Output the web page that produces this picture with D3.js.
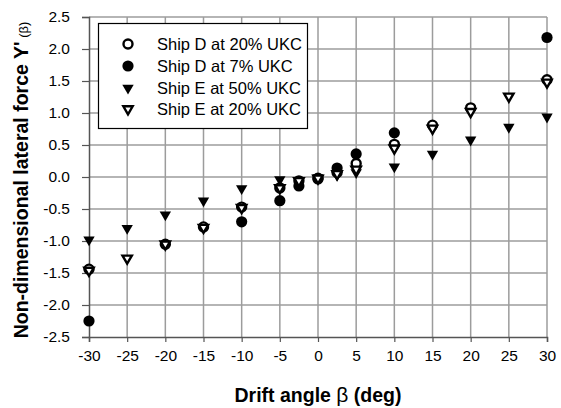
<!DOCTYPE html>
<html><head><meta charset="utf-8">
<script src="https://cdn.jsdelivr.net/npm/d3@7"></script>
<style>body{margin:0;background:#fff}svg{display:block;font-family:"Liberation Sans",Arial,sans-serif}</style>
</head><body><svg id="c" width="561" height="408"></svg>
<script>
const xTicks = [-30,-25,-20,-15,-10,-5,0,5,10,15,20,25,30];
const yTicks = [-2.5,-2.0,-1.5,-1.0,-0.5,0.0,0.5,1.0,1.5,2.0,2.5];
const seriesNames = ["Ship D at 20% UKC","Ship D at 7% UKC","Ship E at 50% UKC","Ship E at 20% UKC"];
const d20x = [-30,-20,-15,-10,-5,-2.5,0,2.5,5,10,15,20,30];
const d20y = [-1.44,-1.05,-0.78,-0.47,-0.17,-0.06,-0.02,0.07,0.21,0.51,0.81,1.08,1.52];
const d7x = [-30,-10,-5,-2.5,0,2.5,5,10,30];
const d7y = [-2.25,-0.70,-0.37,-0.14,-0.03,0.14,0.36,0.69,2.18];
const e50x = [-30,-25,-20,-15,-10,-5,-2.5,0,2.5,5,10,15,20,25,30];
const e50y = [-0.98,-0.80,-0.59,-0.37,-0.18,-0.04,-0.05,-0.01,0.03,0.07,0.16,0.36,0.58,0.78,0.94];
const e20x = [-30,-25,-20,-15,-10,-5,-2.5,0,2.5,5,10,15,20,25,30];
const e20y = [-1.46,-1.27,-1.05,-0.79,-0.48,-0.17,-0.06,-0.02,0.05,0.12,0.45,0.76,1.02,1.26,1.48];

const svg = d3.select("#c");
const L=89, R=547, T=17, B=337;
const x = d3.scaleLinear().domain([-30,30]).range([L,R]);
const y = d3.scaleLinear().domain([-2.5,2.5]).range([B,T]);

// grid
const g = svg.append("g");
g.selectAll(".vg").data(xTicks.slice(1)).join("line")
  .attr("x1",d=>x(d)).attr("x2",d=>x(d)).attr("y1",T).attr("y2",B)
  .attr("stroke","#9c9c9c").attr("stroke-width",1.5);
g.selectAll(".hg").data(yTicks.slice(1)).join("line")
  .attr("x1",L).attr("x2",R).attr("y1",d=>y(d)).attr("y2",d=>y(d))
  .attr("stroke","#9c9c9c").attr("stroke-width",1.5);

// axes
const xa = svg.append("g").attr("transform",`translate(0,${B})`)
  .call(d3.axisBottom(x).tickValues(xTicks).tickSize(5).tickPadding(8).tickFormat(d=>String(d)));
const ya = svg.append("g").attr("transform",`translate(${L},0)`)
  .call(d3.axisLeft(y).tickValues(yTicks).tickSize(7).tickPadding(12).tickFormat(d=>d.toFixed(1)));
[xa,ya].forEach(a=>{
  a.select(".domain").attr("stroke","#555").attr("stroke-width",1.5);
  a.selectAll(".tick line").attr("stroke","#555").attr("stroke-width",1.2);
  a.selectAll(".tick text").attr("font-size",15.5).attr("fill","#000")
   .attr("font-family",'"Liberation Sans",Arial,sans-serif');
});

// markers
const triDown = d3.symbol().type(d3.symbolTriangle);
function drawOpenCircle(sel, px, py){
  sel.append("circle").attr("cx",px).attr("cy",py).attr("r",4.5)
    .attr("fill","#fff").attr("stroke","#000").attr("stroke-width",2.4);
}
function drawFilledCircle(sel, px, py){
  sel.append("circle").attr("cx",px).attr("cy",py).attr("r",5.6).attr("fill","#000");
}
function drawFilledTri(sel, px, py){
  sel.append("path").attr("d",triDown.size(56)()).attr("fill","#000")
    .attr("transform",`translate(${px},${py}) rotate(180)`);
}
function drawOpenTri(sel, px, py){
  sel.append("path").attr("d",triDown.size(38)()).attr("fill","#fff").attr("stroke","#000")
    .attr("stroke-width",2.4).attr("stroke-linejoin","miter")
    .attr("transform",`translate(${px},${py}) rotate(180)`);
}
const m = svg.append("g");
d20x.forEach((v,i)=>drawOpenCircle(m, x(v), y(d20y[i])));
d7x.forEach((v,i)=>drawFilledCircle(m, x(v), y(d7y[i])));
e50x.forEach((v,i)=>drawFilledTri(m, x(v), y(e50y[i])));
e20x.forEach((v,i)=>drawOpenTri(m, x(v), y(e20y[i])));

// legend
const lg = svg.append("g");
lg.append("rect").attr("x",98.5).attr("y",23.5).attr("width",209).attr("height",105)
  .attr("fill","#fff").attr("stroke","#000").attr("stroke-width",1.2);
const drawers=[drawOpenCircle,drawFilledCircle,drawFilledTri,drawOpenTri];
const rowsY=[44,66,88,109];
seriesNames.forEach((n,i)=>{
  drawers[i](lg,128,rowsY[i]);
  lg.append("text").attr("x",157).attr("y",rowsY[i]+6).attr("font-size",16.5).text(n);
});

// axis titles
const xt = svg.append("text").attr("x",318).attr("y",402).attr("text-anchor","middle")
  .attr("font-size",19.5).attr("font-weight","bold");
xt.append("tspan").text("Drift angle ");
xt.append("tspan").attr("font-weight","normal").attr("font-size",21).text("β");
xt.append("tspan").text(" (deg)");
const yt = svg.append("text").attr("transform","translate(28,180) rotate(-90)")
  .attr("text-anchor","middle").attr("font-size",19.5).attr("font-weight","bold");
yt.append("tspan").text("Non-dimensional lateral force Y'");
yt.append("tspan").attr("font-weight","normal").attr("font-size",13).text(" (β)");
</script></body></html>
